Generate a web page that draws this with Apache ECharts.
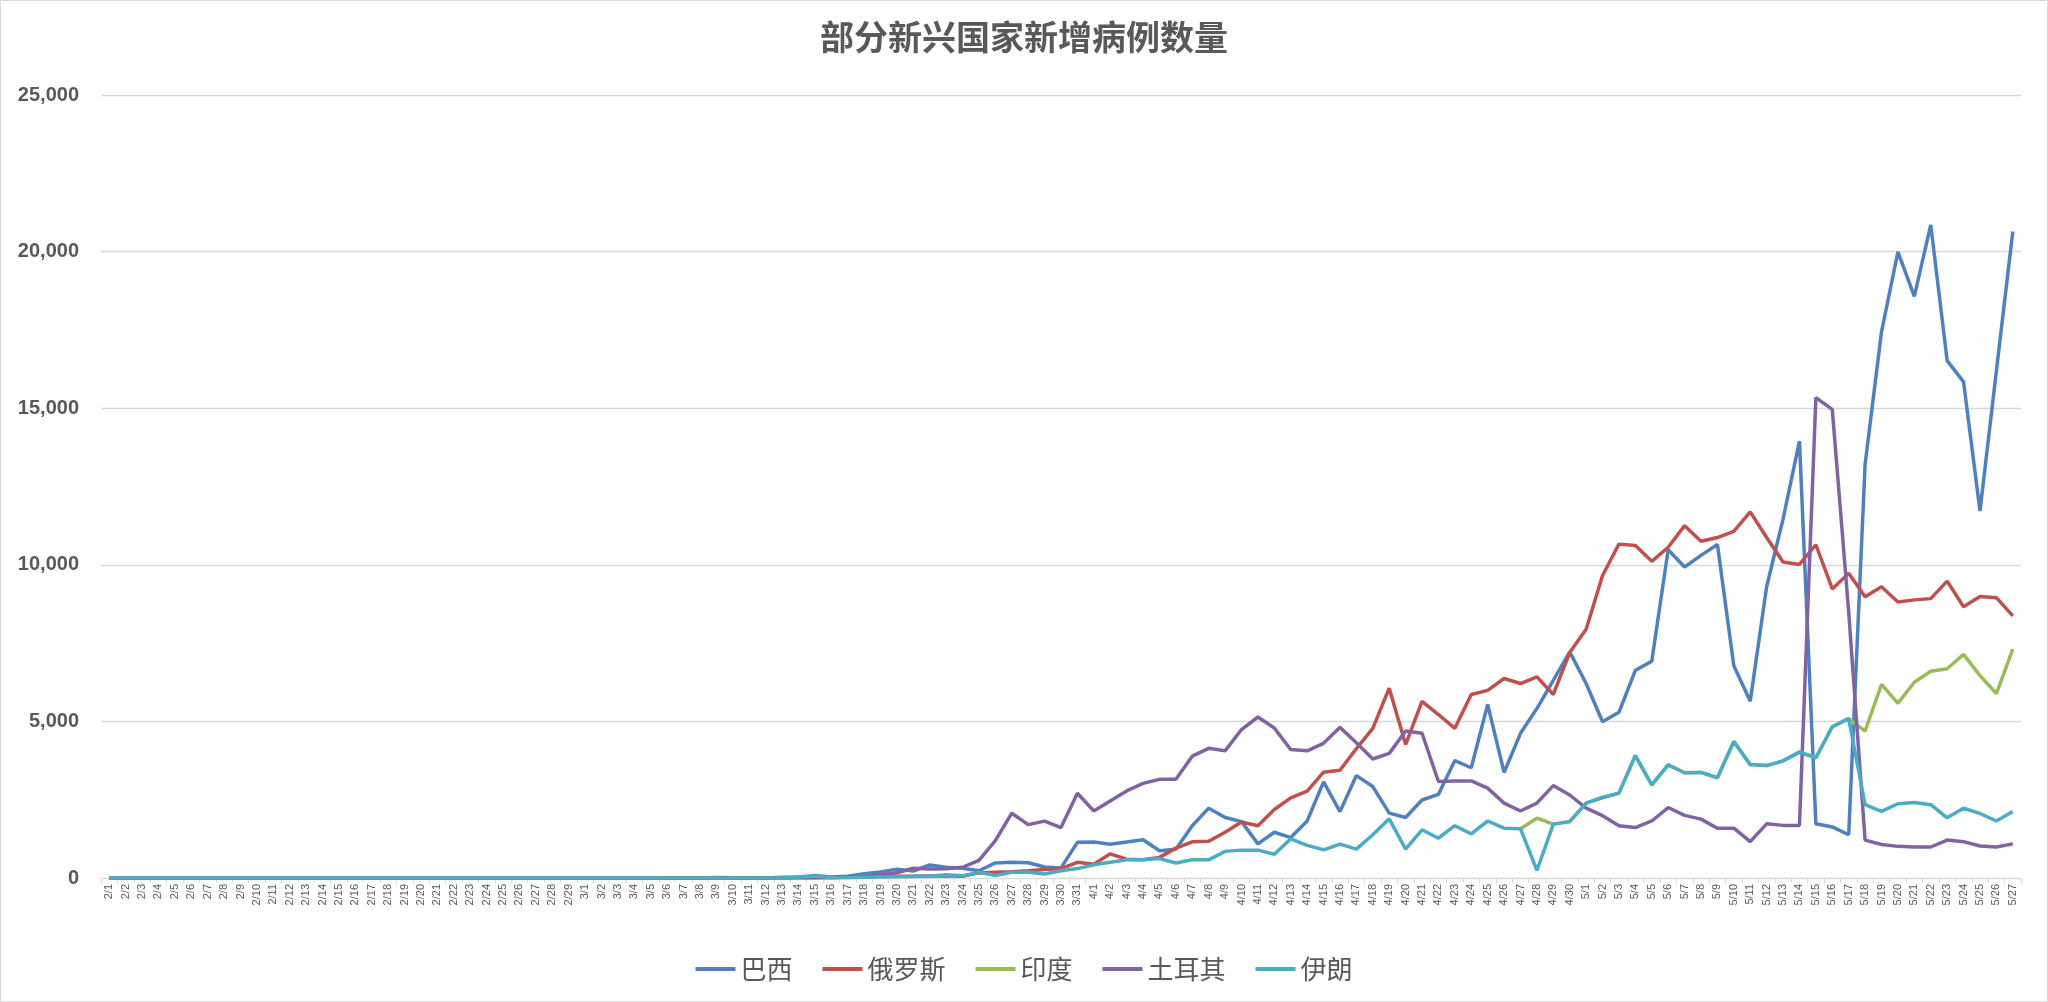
<!DOCTYPE html>
<html><head><meta charset="utf-8">
<script src="https://cdn.jsdelivr.net/npm/echarts@6/dist/echarts.min.js"></script>
<style>html,body{margin:0;padding:0;background:#fff}#c{width:2046px;height:1000px;border:1px solid #d9d9d9}</style>
</head><body><div id="c"></div>
<script>
const dates=["2/1","2/2","2/3","2/4","2/5","2/6","2/7","2/8","2/9","2/10","2/11","2/12","2/13","2/14","2/15","2/16","2/17","2/18","2/19","2/20","2/21","2/22","2/23","2/24","2/25","2/26","2/27","2/28","2/29",
"3/1","3/2","3/3","3/4","3/5","3/6","3/7","3/8","3/9","3/10","3/11","3/12","3/13","3/14","3/15","3/16","3/17","3/18","3/19","3/20","3/21","3/22","3/23","3/24","3/25","3/26","3/27","3/28","3/29","3/30","3/31",
"4/1","4/2","4/3","4/4","4/5","4/6","4/7","4/8","4/9","4/10","4/11","4/12","4/13","4/14","4/15","4/16","4/17","4/18","4/19","4/20","4/21","4/22","4/23","4/24","4/25","4/26","4/27","4/28","4/29","4/30",
"5/1","5/2","5/3","5/4","5/5","5/6","5/7","5/8","5/9","5/10","5/11","5/12","5/13","5/14","5/15","5/16","5/17","5/18","5/19","5/20","5/21","5/22","5/23","5/24","5/25","5/26","5/27"];
const brazil=[0,0,0,0,0,0,0,0,0,0,0,0,0,0,0,0,0,0,0,0,0,0,0,0,0,0,0,0,0,
0,0,0,0,2,5,5,0,12,5,9,0,21,26,79,34,57,137,193,283,224,418,345,310,232,482,502,487,352,323,1138,
1150,1080,1150,1220,870,920,1670,2230,1930,1800,1090,1460,1290,1820,3070,2120,3270,2920,2070,1930,2490,2670,3750,3520,5540,3370,4620,5410,6310,7220,
6210,4990,5290,6630,6920,10480,9930,10300,10650,6780,5640,9300,11460,13950,1730,1630,1380,13210,17440,19990,18570,20850,16520,15840,11720,16190,20640];
const russia=[0,0,0,0,0,0,0,0,0,0,0,0,0,0,0,0,0,0,0,0,0,0,0,0,0,0,0,0,0,
0,0,0,0,0,0,0,3,0,3,2,8,0,17,14,4,30,33,52,54,53,62,71,57,163,182,196,228,270,302,501,
440,771,601,582,658,954,1154,1175,1459,1786,1667,2186,2558,2774,3380,3440,4130,4780,6060,4260,5640,5220,4780,5860,5990,6370,6210,6420,5860,7200,
7940,9660,10660,10620,10110,10560,11250,10750,10870,11070,11690,10870,10090,10010,10640,9230,9730,8980,9300,8810,8880,8920,9480,8660,8990,8950,8370];
const india=[null,null,null,null,null,null,null,null,null,null,null,null,null,null,null,null,null,null,null,null,null,null,null,null,null,null,null,null,null,
null,null,null,null,null,null,null,null,null,null,null,null,null,null,null,null,null,null,null,null,null,null,null,null,null,null,null,null,null,null,null,
null,null,null,null,null,null,null,null,null,null,null,null,null,null,null,null,null,null,null,null,null,null,null,null,null,null,1570,1910,1720,1800,
2390,2570,2710,3910,2970,3610,3360,3370,3200,4360,3620,3590,3740,4020,3840,4830,5090,4690,6180,5580,6250,6600,6680,7140,6460,5890,7310];
const turkey=[0,0,0,0,0,0,0,0,0,0,0,0,0,0,0,0,0,0,0,0,0,0,0,0,0,0,0,0,0,
0,0,0,0,0,0,0,0,0,0,1,0,4,0,0,12,29,51,93,168,311,289,293,343,561,1196,2069,1704,1815,1610,2704,
2140,2460,2780,3020,3150,3150,3890,4140,4060,4740,5140,4790,4100,4060,4300,4810,4320,3800,3980,4690,4620,3080,3100,3100,2870,2390,2140,2390,2950,2650,
2230,1990,1670,1610,1820,2250,2000,1880,1590,1590,1160,1730,1680,1680,15340,14960,8500,1210,1070,1010,990,990,1210,1160,1020,990,1090];
const iran=[0,0,0,0,0,0,0,0,0,0,0,0,0,0,0,0,0,0,0,0,0,0,0,0,0,0,0,0,0,
0,0,0,0,0,0,0,0,0,0,0,0,0,20,60,10,10,20,30,40,50,60,100,70,180,80,180,180,130,230,300,
420,500,580,580,620,480,580,580,850,890,890,760,1250,1040,900,1080,920,1380,1890,920,1540,1270,1670,1410,1820,1590,1570,240,1720,1800,
2390,2570,2710,3910,2970,3610,3360,3370,3200,4360,3620,3590,3740,4020,3840,4830,5090,2340,2130,2370,2410,2340,1920,2230,2060,1820,2120];
const names=["巴西","俄罗斯","印度","土耳其","伊朗"];
const colors=["#4F81BD","#C0504D","#9BBB59","#8064A2","#4BACC6"];
const yTicks={min:0,max:25000,interval:5000};
const chart=echarts.init(document.getElementById('c'));
const data=[brazil,russia,india,turkey,iran];
chart.setOption({
  animation:false,
  color:colors,
  title:{text:"部分新兴国家新增病例数量",left:'center',top:14,textStyle:{fontSize:34,fontWeight:'bold',color:'#595959',fontFamily:'Noto Sans CJK SC'}},
  legend:{bottom:14,icon:'rect',itemWidth:40,itemHeight:4,itemGap:30,textStyle:{fontSize:26,color:'#595959',fontFamily:'Noto Sans CJK SC'},data:names},
  grid:{left:100,right:26,top:94,bottom:123,containLabel:false},
  xAxis:{type:'category',data:dates,boundaryGap:true,
    axisLine:{lineStyle:{color:'#d9d9d9'}},axisTick:{show:true,interval:0,lineStyle:{color:'#d9d9d9'}},
    axisLabel:{interval:0,rotate:90,fontSize:11,color:'#595959',margin:6}},
  yAxis:{type:'value',min:yTicks.min,max:yTicks.max,interval:yTicks.interval,
    axisLine:{show:false},axisTick:{show:false},splitLine:{lineStyle:{color:'#d9d9d9',width:1.3}},
    axisLabel:{fontSize:20,fontWeight:'bold',color:'#595959',margin:22}},
  series:data.map((d,i)=>({name:names[i],type:'line',data:d,showSymbol:false,symbol:'none',lineStyle:{width:3.5,color:colors[i]},connectNulls:false}))
});
</script></body></html>
